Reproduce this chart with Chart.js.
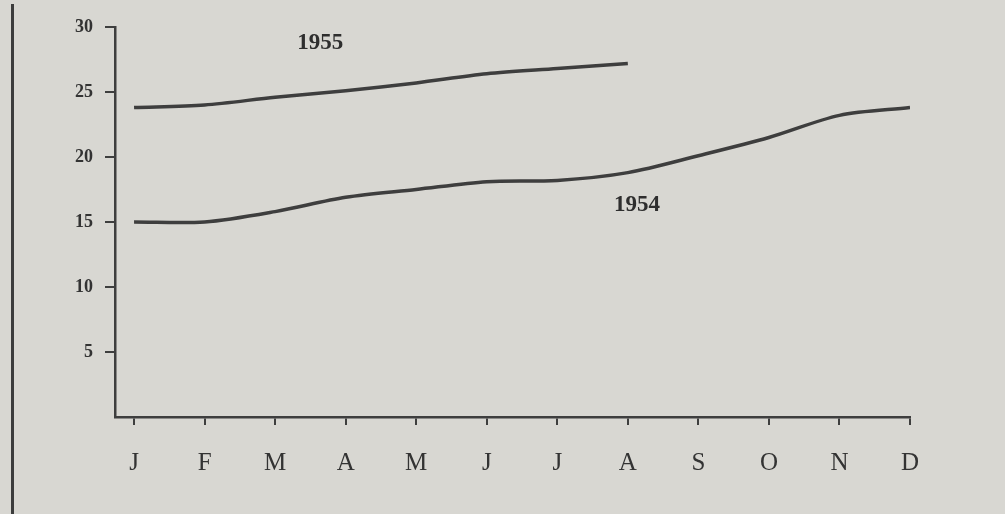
<!DOCTYPE html>
<html>
<head>
<meta charset="utf-8">
<script src="https://cdn.jsdelivr.net/npm/chart.js@4"></script>
<style>
  html, body { margin: 0; padding: 0; background: #d8d7d2; }
  #wrap { position: relative; width: 1005px; height: 514px; }
  #edge { position: absolute; left: 11px; top: 4px; width: 3px; height: 510px; background: #3c3c3c; }
</style>
</head>
<body>
<div id="wrap">
  <div id="edge"></div>
  <canvas id="chart" width="1005" height="514"></canvas>
</div>
<script>
// ---- DATA ----
const months = ['J', 'F', 'M', 'A', 'M', 'J', 'J', 'A', 'S', 'O', 'N', 'D'];
const values1955 = [23.8, 24.0, 24.6, 25.1, 25.7, 26.4, 26.8, 27.2];
const values1954 = [15.0, 15.0, 15.8, 16.9, 17.5, 18.1, 18.2, 18.8, 20.1, 21.5, 23.2, 23.8];
const yTicks = [5, 10, 15, 20, 25, 30];
const seriesLabels = ['1955', '1954'];

const ink = '#3e3e3e';

// ---- LINE LABELS (placed in data space) ----
const lineLabels = {
  id: 'lineLabels',
  afterDatasetsDraw(chart) {
    const { ctx, scales: { x, y } } = chart;
    const spots = [[2.64, 28.8], [7.13, 16.3]];
    ctx.save();
    ctx.fillStyle = '#2e2e2e';
    ctx.font = 'bold 23px "Liberation Serif", serif';
    ctx.textAlign = 'center';
    ctx.textBaseline = 'middle';
    seriesLabels.forEach((t, i) => {
      ctx.fillText(t, x.getPixelForValue(spots[i][0]), y.getPixelForValue(spots[i][1]));
    });
    ctx.restore();
  }
};

new Chart(document.getElementById('chart'), {
  type: 'line',
  data: {
    datasets: [
      {
        label: seriesLabels[0],
        data: values1955.map((v, i) => ({ x: i, y: v })),
        borderColor: ink,
        borderWidth: 3.5,
        pointRadius: 0,
        tension: 0.3,
        fill: false
      },
      {
        label: seriesLabels[1],
        data: values1954.map((v, i) => ({ x: i, y: v })),
        borderColor: ink,
        borderWidth: 3.5,
        pointRadius: 0,
        tension: 0.3,
        fill: false
      }
    ]
  },
  options: {
    responsive: false,
    animation: false,
    layout: { padding: { left: 0, top: 27, right: 95, bottom: 0 } },
    plugins: { legend: { display: false }, tooltip: { enabled: false } },
    scales: {
      x: {
        type: 'linear',
        min: -0.27,
        max: 11,
        afterBuildTicks: s => { s.ticks = months.map((_, i) => ({ value: i })); },
        afterFit: s => { s.height = 97; },
        border: { display: true, color: ink, width: 2.5 },
        grid: { drawOnChartArea: false, drawTicks: true, tickLength: 8, color: ink, lineWidth: 2 },
        ticks: {
          autoSkip: false,
          maxRotation: 0,
          padding: 23,
          color: '#333',
          font: { family: '"Liberation Serif", serif', size: 25 },
          callback: v => months[v]
        }
      },
      y: {
        min: 0,
        max: 30,
        afterBuildTicks: s => { s.ticks = yTicks.map(v => ({ value: v })); },
        afterFit: s => { s.width = 115; },
        border: { display: true, color: ink, width: 2.5 },
        grid: { drawOnChartArea: false, drawTicks: true, tickLength: 10, color: ink, lineWidth: 2 },
        ticks: {
          padding: 12,
          color: '#333',
          font: { family: '"Liberation Serif", serif', size: 18, weight: 'bold' }
        }
      }
    }
  },
  plugins: [lineLabels]
});
</script>
</body>
</html>
